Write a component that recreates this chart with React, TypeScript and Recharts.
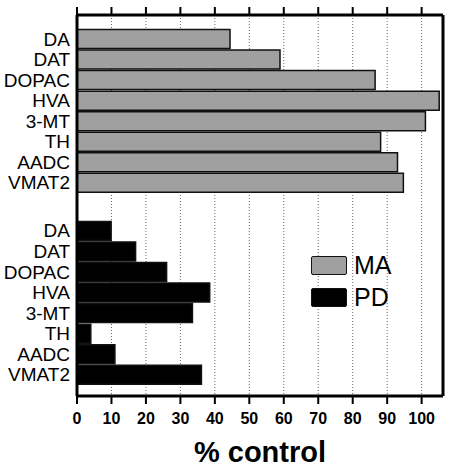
import { BarChart, Bar, Cell, XAxis, YAxis, CartesianGrid } from "recharts";

const markers = ["DA", "DAT", "DOPAC", "HVA", "3-MT", "TH", "AADC", "VMAT2"];
const maValues = [44.4, 58.9, 86.5, 105.1, 101.1, 88.1, 93.0, 94.7];
const pdValues = [9.9, 17.0, 26.0, 38.5, 33.5, 4.0, 11.0, 36.1];
const seriesNames = ["MA", "PD"];
const seriesColors = ["#a0a0a0", "#000000"];
const xTicks = [0, 10, 20, 30, 40, 50, 60, 70, 80, 90, 100];

// gap between the two groups, in rows
const GROUP_GAP = 2.35;

const rows = [
    ...markers.map((name, i) => ({ name, pos: i, value: maValues[i], group: 0 })),
    ...markers.map((name, i) => ({ name, pos: i + 7 + GROUP_GAP, value: pdValues[i], group: 1 })),
];
const rowTicks = rows.map((r) => r.pos);
const labelAt = new Map(rows.map((r) => [r.pos, r.name]));

const yDomain = [-1.16, 17.4];
const xDomain = [0, 106.2];
const font = "'Liberation Sans', Arial, sans-serif";

function LegendBox() {
    return (
        <div style={{ position: "absolute", left: 311, top: 250, fontFamily: font }}>
            {seriesNames.map((name, i) => (
                <div key={name} style={{ display: "flex", alignItems: "center", height: 31.6 }}>
                    <div
                        style={{
                            width: 34,
                            height: 17,
                            background: seriesColors[i],
                            border: "1.5px solid #111",
                            borderRadius: 2,
                        }}
                    />
                    <span style={{ fontSize: 25, marginLeft: 7, color: "#000", lineHeight: "25px" }}>{name}</span>
                </div>
            ))}
        </div>
    );
}

export default function App() {
    return (
        <div style={{ position: "absolute", left: 0, top: 0, fontFamily: font }}>
            <BarChart
                width={450}
                height={470}
                data={rows}
                layout="vertical"
                margin={{ top: 0, right: 0, left: 0, bottom: 0 }}
            >
                <CartesianGrid horizontal={false} stroke="#666" strokeDasharray="1 2" />
                <XAxis
                    type="number"
                    domain={xDomain}
                    ticks={xTicks}
                    allowDataOverflow
                    height={74}
                    axisLine={{ stroke: "#000", strokeWidth: 3 }}
                    tickLine={{ stroke: "#000", strokeWidth: 2 }}
                    tickSize={8}
                    tickMargin={9}
                    tick={{ fill: "#000", fontSize: 16, fontWeight: 700, fontFamily: font }}
                    label={{
                        value: "% control",
                        position: "insideBottom",
                        offset: 8,
                        fill: "#000",
                        fontSize: 29,
                        fontWeight: 700,
                        fontFamily: font,
                    }}
                />
                <XAxis
                    xAxisId="top"
                    orientation="top"
                    type="number"
                    domain={xDomain}
                    ticks={xTicks}
                    allowDataOverflow
                    height={15}
                    axisLine={{ stroke: "#000", strokeWidth: 3 }}
                    tickLine={{ stroke: "#000", strokeWidth: 2 }}
                    tickSize={8}
                    tickFormatter={() => ""}
                />
                <YAxis
                    type="number"
                    dataKey="pos"
                    domain={yDomain}
                    ticks={rowTicks}
                    interval={0}
                    allowDataOverflow
                    width={77}
                    axisLine={{ stroke: "#000", strokeWidth: 3 }}
                    tickLine={false}
                    tickSize={5}
                    tickMargin={2}
                    tickFormatter={(v: number) => labelAt.get(v) ?? ""}
                    tick={{ fill: "#000", fontSize: 19, fontFamily: font }}
                />
                <YAxis
                    yAxisId="r"
                    orientation="right"
                    type="number"
                    domain={yDomain}
                    width={7}
                    axisLine={{ stroke: "#000", strokeWidth: 3 }}
                    tick={false}
                    tickLine={false}
                />
                <Bar dataKey="value" barSize={19} stroke="#111" strokeWidth={1.5} isAnimationActive={false}>
                    {rows.map((r, i) => (
                        <Cell key={i} fill={seriesColors[r.group]} />
                    ))}
                </Bar>
            </BarChart>
            <LegendBox />
        </div>
    );
}
